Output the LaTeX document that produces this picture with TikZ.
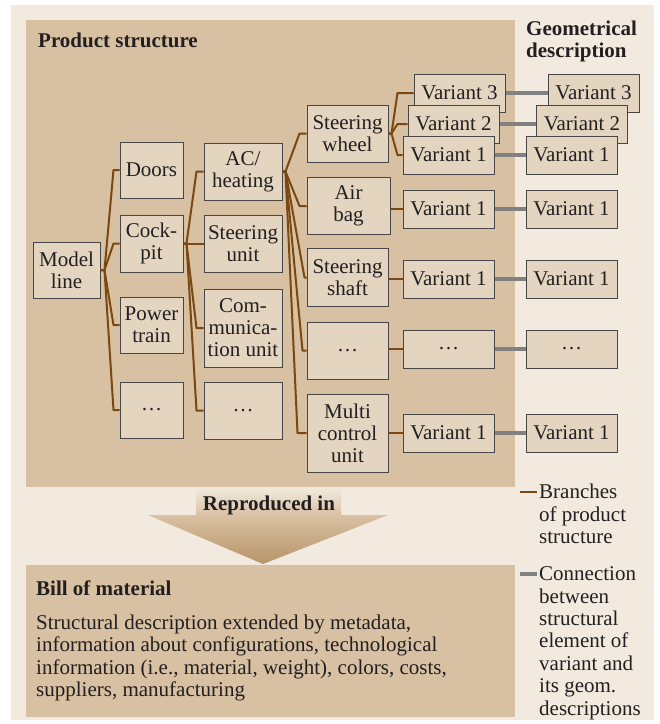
\documentclass[tikz,border=0pt]{standalone}
\usepackage{fontspec}
\setmainfont{Liberation Serif}
\definecolor{pagebg}{RGB}{242,234,223}
\definecolor{panelbg}{RGB}{216,192,162}
\definecolor{boxbg}{RGB}{228,213,193}
\definecolor{boxline}{RGB}{70,70,70}
\definecolor{branchc}{RGB}{122,72,16}
\definecolor{geomc}{RGB}{128,128,128}
\definecolor{arrowtop}{RGB}{217,193,161}
\definecolor{arrowdark}{RGB}{183,148,106}
\definecolor{txt}{RGB}{35,31,32}

% branch with a short stub, a slanted run and a short horizontal entry
\newcommand\brlink[4]{\draw[branch] (#1.east) -- ++(#3,0) -- ([xshift=-#4pt]#2.west) -- (#2.west);}

\begin{document}
\begin{tikzpicture}[x=1pt,y=-1pt,
  every node/.style={text=txt},
  basefont/.style={font=\fontsize{21}{22}\selectfont},
  part/.style={basefont, draw=boxline, line width=1pt, fill=boxbg, inner sep=0pt, align=center},
  sz/.style 2 args={minimum width=#1pt, minimum height=#2pt},
  var/.style={part, sz={91}{38}},
  branch/.style={draw=branchc, line width=2pt, line join=round},
  geom/.style={draw=geomc, line width=4.5pt},
  heading/.style={font=\fontsize{21}{21.5}\selectfont\bfseries, inner sep=0pt},
  note/.style={font=\fontsize{21}{22.4}\selectfont, align=left, inner sep=0pt, anchor=north west}
]
% page and panels
\fill[white] (0,0) rectangle (660,724);
\fill[pagebg] (11,5) rectangle (654,720);
\fill[panelbg] (26,20) rectangle (515,487);
\fill[panelbg] (26,565) rectangle (515,717);

% "reproduced in" arrow
\shade[top color=pagebg, bottom color=panelbg] (196,488) rectangle (341,515.5);
\shade[top color=arrowtop, bottom color=arrowdark] (148,515) -- (388,515) -- (263,564) -- cycle;
\node[heading] (repro) at (269,505) {Reproduced in};

% headings
\node[heading, anchor=base west] (pstitle) at (38,47) {Product structure};
\node[heading, align=left, anchor=north west] (geotitle) at (526,21) {Geometrical\\description};

% product structure tree
\node[part, sz={67}{56}] (model) at (66.5,270) {Model\\line};

\node[part, sz={63}{56}] (doors) at (151.5,170) {Doors};
\node[part, sz={63}{57}] (cockpit) at (151.5,243.5) {Cock-\\pit};
\node[part, sz={63}{56}] (power) at (151.5,325) {Power\\train};
\node[part, sz={63}{56}] (dotsb) at (151.5,410) {\dots};

\node[part, sz={78}{57}] (ac) at (243,171.5) {AC/\\heating};
\node[part, sz={78}{57}] (sunit) at (243,243.5) {Steering\\unit};
\node[part, sz={78}{78}] (comm) at (243,328) {Com-\\munica-\\tion unit};
\node[part, sz={78}{57}] (dotsc) at (243,410.5) {\dots};

\node[part, sz={81}{57}] (wheel) at (347.5,133.5) {Steering\\wheel};
\node[part, sz={83}{57}] (airbag) at (348.5,206) {Air\\bag};
\node[part, sz={81}{58}] (shaft) at (347.5,277.5) {Steering\\shaft};
\node[part, sz={81}{57}] (dotsd) at (347.5,350.5) {\dots};
\node[part, sz={81}{78}] (multi) at (347.5,433) {Multi\\control\\unit};

% variants of the structure
\node[var] (lvc) at (459.5,93) {Variant 3};
\node[var] (lvb) at (453.5,124) {Variant 2};
\node[var] (lva) at (448.5,155) {Variant 1};
\node[var] (lbag) at (448.5,209) {Variant 1};
\node[var] (lshaft) at (448.5,279) {Variant 1};
\node[var] (ldots) at (448.5,349) {\dots};
\node[var] (lmulti) at (448.5,433) {Variant 1};

% geometrical descriptions
\node[var] (rvc) at (593.5,93) {Variant 3};
\node[var] (rvb) at (582,124) {Variant 2};
\node[var] (rva) at (571.5,155) {Variant 1};
\node[var] (rbag) at (571.5,209) {Variant 1};
\node[var] (rshaft) at (571.5,279) {Variant 1};
\node[var] (rdots) at (571.5,349) {\dots};
\node[var] (rmulti) at (571.5,433) {Variant 1};

% branches of the product structure
\brlink{model}{doors}{4}{6}
\brlink{model}{cockpit}{4}{6}
\brlink{model}{power}{4}{6}
\brlink{model}{dotsb}{4}{6}

\brlink{cockpit}{ac}{3}{7}
\brlink{cockpit}{sunit}{3}{7}
\brlink{cockpit}{comm}{3}{7}
\brlink{cockpit}{dotsc}{3}{7}

\brlink{ac}{wheel}{3}{7}
\brlink{ac}{airbag}{3}{7}
\brlink{ac}{shaft}{3}{2}
\brlink{ac}{dotsd}{3}{4}
\brlink{ac}{multi}{3}{9}

\brlink{wheel}{lvc}{3}{16}
\brlink{wheel}{lvb}{3}{10}
\brlink{wheel}{lva}{3}{5}

\draw[branch] (airbag.east |- lbag.west) -- (lbag.west);
\draw[branch] (shaft.east |- lshaft.west) -- (lshaft.west);
\draw[branch] (dotsd.east |- ldots.west) -- (ldots.west);
\draw[branch] (multi.east |- lmulti.west) -- (lmulti.west);

% links to the geometrical descriptions
\draw[geom] (lvc.east) -- (rvc.west);
\draw[geom] (lvb.east) -- (rvb.west);
\draw[geom] (lva.east) -- (rva.west);
\draw[geom] (lbag.east) -- (rbag.west);
\draw[geom] (lshaft.east) -- (rshaft.west);
\draw[geom] (ldots.east) -- (rdots.west);
\draw[geom] (lmulti.east) -- (rmulti.west);

% bill of material
\node[heading, anchor=base west] (bomtitle) at (36,595) {Bill of material};
\node[note, font=\fontsize{21}{22.5}\selectfont] (bomtext) at (36,614.5)
  {Structural description extended by metadata,\\information about configurations, technological\\information (i.e., material, weight), colors, costs,\\suppliers, manufacturing};

% legend
\coordinate (kba) at (520,492);
\coordinate (kbb) at (537,492);
\draw[branch] (kba) -- (kbb);
\node[note] (keyb) at (539,484) {Branches\\of product\\structure};
\coordinate (kga) at (520,574);
\coordinate (kgb) at (537,574);
\draw[geom] (kga) -- (kgb);
\node[note] (keyg) at (539,566.5) {Connection\\between\\structural\\element of\\variant and\\its geom.\\descriptions};
\end{tikzpicture}
\end{document}
